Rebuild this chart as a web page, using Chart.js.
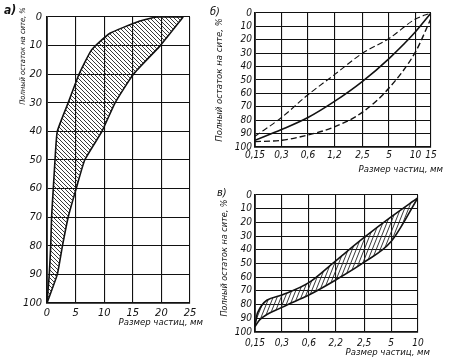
<!DOCTYPE html>
<html>
<head>
<meta charset="utf-8">
<script src="https://cdn.jsdelivr.net/npm/chart.js@4.4.1/dist/chart.umd.min.js"></script>
<style>
  body { margin: 0; background: #fff; }
  #wrap { position: relative; width: 450px; height: 363px; overflow: hidden; }
  canvas { position: absolute; }
</style>
</head>
<body>
<div id="wrap">
  <canvas id="chartA" width="215" height="363" style="left:0;top:0"></canvas>
  <canvas id="chartB" width="250" height="180" style="left:200px;top:0"></canvas>
  <canvas id="chartC" width="250" height="183" style="left:200px;top:180px"></canvas>
</div>
<script>
// а) band boundaries: particle size (mm) vs total residue (%)
const aLeftSize = [0, 0.4, 0.65, 0.8, 1.1, 1.4, 1.8, 3.7, 5.6, 7.8, 11, 16, 19.2, 23.8];
const aLeftResidue = [100, 90, 80, 70, 60, 50, 40, 30, 20, 11.5, 5.7, 1.6, 0, 0];
const aRightSize = [0, 1.8, 2.7, 3.7, 5.1, 6.6, 9.6, 11.9, 15.1, 19.8, 23.8];
const aRightResidue = [100, 90, 80, 70, 60, 50, 40, 30, 20, 10, 0];

// б) three grading curves
const bSizes = [0.15, 0.3, 0.6, 1.2, 2.5, 5, 10, 15];
const bTickLabels = ['0,15', '0,3', '0,6', '1,2', '2,5', '5', '10', '15'];
const bUpper = [92, 78, 61, 46, 30, 19, 4.5, 0];
const bMiddle = [95, 87, 78, 66, 51, 34, 14, 0];
const bLower = [96, 95, 91, 85, 74, 56, 29, 4];

// в) band boundaries
const cTicks = [0.15, 0.3, 0.6, 1.2, 2.5, 5, 10];
const cTickLabels = ['0,15', '0,3', '0,6', '2,2', '2,5', '5', '10'];
const cUpperSize = [0.15, 0.16, 0.3, 0.6, 1.2, 2.5, 5, 10];
const cUpperResidue = [96, 86, 73, 64, 48, 31, 16, 2];
const cLowerSize = [0.15, 0.17, 0.3, 0.6, 1.2, 2.5, 5, 10];
const cLowerResidue = [96, 91, 82, 73, 62, 49, 34, 2];

const yTicks = [0, 10, 20, 30, 40, 50, 60, 70, 80, 90, 100];

const FONT = '"Liberation Sans Narrow", "DejaVu Sans Condensed", sans-serif';
const INK = '#111';

const pts = (xs, ys) => xs.map((x, i) => ({ x: x, y: ys[i] }));

// hatching as canvas pattern
function hatch(w, h, steep) {
  const c = document.createElement('canvas');
  c.width = w; c.height = h;
  const g = c.getContext('2d');
  g.strokeStyle = '#222';
  g.lineWidth = 0.9;
  for (const k of [-1, 0, 1]) {
    g.beginPath();
    if (steep) { g.moveTo(k * w + w, 0); g.lineTo(k * w, h); }
    else { g.moveTo(k * w, 0); g.lineTo(k * w + w, h); }
    g.stroke();
  }
  return c.getContext('2d').createPattern(c, 'repeat');
}

// free texts: panel letters and axis titles
const textPlugin = {
  id: 'texts',
  afterDraw(chart, args, opts) {
    const ctx = chart.ctx;
    (opts.items || []).forEach(t => {
      ctx.save();
      ctx.font = t.font;
      ctx.fillStyle = INK;
      ctx.translate(t.x, t.y);
      if (t.rotate) ctx.rotate(-Math.PI / 2);
      ctx.textAlign = t.align || 'left';
      ctx.textBaseline = 'middle';
      ctx.fillText(t.text, 0, 0);
      ctx.restore();
    });
  }
};

const grid = { color: INK, lineWidth: 1.1, drawTicks: false };
const border = { color: INK, width: 1.8 };
const tickFont = { family: FONT, size: 10, style: 'italic' };

function yScale(width, pad, size) {
  return {
    min: 0, max: 100, reverse: true,
    afterBuildTicks: s => { s.ticks = yTicks.map(v => ({ value: v })); },
    afterFit: s => { s.width = width; },
    grid: grid, border: border,
    ticks: { color: INK, font: { family: FONT, size: size, style: 'italic' }, padding: pad, autoSkip: false }
  };
}

function logX(min, max, ticks, labels, height, pad) {
  return {
    type: 'logarithmic', min: min, max: max, bounds: 'data',
    afterBuildTicks: s => { s.ticks = ticks.map(v => ({ value: v })); },
    afterFit: s => { s.height = height; },
    grid: grid, border: border,
    ticks: { color: INK, font: tickFont, padding: pad, autoSkip: false, maxRotation: 0,
      callback: (v, i) => labels[i] }
  };
}

const common = {
  responsive: false,
  animation: false,
  devicePixelRatio: 1,
  elements: { point: { radius: 0 } }
};

// а)
new Chart(document.getElementById('chartA'), {
  type: 'line',
  data: {
    datasets: [
      { data: pts(aLeftSize, aLeftResidue), borderColor: INK, borderWidth: 1.6,
        backgroundColor: hatch(4, 4, false), fill: '+1', tension: 0.15 },
      { data: pts(aRightSize, aRightResidue), borderColor: INK, borderWidth: 1.6,
        fill: false, tension: 0.15 }
    ]
  },
  options: Object.assign({}, common, {
    layout: { padding: { left: 0, top: 17, right: 25, bottom: 0 } },
    scales: {
      x: {
        type: 'linear', min: 0, max: 25,
        ticks: { stepSize: 5, color: INK, font: { family: FONT, size: 11, style: 'italic' }, padding: 4, maxRotation: 0 },
        afterFit: s => { s.height = 60; },
        grid: grid, border: border
      },
      y: yScale(47, 5, 11)
    },
    plugins: {
      legend: { display: false },
      tooltip: { enabled: false },
      texts: { items: [
        { text: 'а)', x: 4, y: 11, font: 'bold italic 12px ' + FONT },
        { text: 'Полный остаток на сите, %', x: 23, y: 56, rotate: true, align: 'center', font: 'italic 7.5px ' + FONT },
        { text: 'Размер частиц, мм', x: 203, y: 323, align: 'right', font: 'italic 9.5px ' + FONT }
      ] }
    }
  }),
  plugins: [textPlugin]
});

// б)
new Chart(document.getElementById('chartB'), {
  type: 'line',
  data: {
    datasets: [
      { data: pts(bSizes, bUpper), borderColor: INK, borderWidth: 1.1, borderDash: [6, 3],
        fill: false, cubicInterpolationMode: 'monotone' },
      { data: pts(bSizes, bMiddle), borderColor: INK, borderWidth: 1.6,
        fill: false, cubicInterpolationMode: 'monotone' },
      { data: pts(bSizes, bLower), borderColor: INK, borderWidth: 1.4, borderDash: [6, 3],
        fill: false, cubicInterpolationMode: 'monotone' }
    ]
  },
  options: Object.assign({}, common, {
    layout: { padding: { left: 0, top: 13, right: 19, bottom: 0 } },
    scales: {
      x: logX(0.15, 15, bSizes, bTickLabels, 33, 2),
      y: yScale(55, 3, 10)
    },
    plugins: {
      legend: { display: false },
      tooltip: { enabled: false },
      texts: { items: [
        { text: 'б)', x: 10, y: 12, font: 'italic 11px ' + FONT },
        { text: 'Полный остаток на сите, %', x: 20, y: 80, rotate: true, align: 'center', font: 'italic 9.5px ' + FONT },
        { text: 'Размер частиц, мм', x: 243, y: 170, align: 'right', font: 'italic 9.5px ' + FONT }
      ] }
    }
  }),
  plugins: [textPlugin]
});

// в)
new Chart(document.getElementById('chartC'), {
  type: 'line',
  data: {
    datasets: [
      { data: pts(cUpperSize, cUpperResidue), borderColor: INK, borderWidth: 1.6,
        backgroundColor: hatch(4, 10, true), fill: '+1', cubicInterpolationMode: 'monotone' },
      { data: pts(cLowerSize, cLowerResidue), borderColor: INK, borderWidth: 1.6,
        fill: false, cubicInterpolationMode: 'monotone' }
    ]
  },
  options: Object.assign({}, common, {
    layout: { padding: { left: 0, top: 15, right: 32, bottom: 0 } },
    scales: {
      x: logX(0.15, 10, cTicks, cTickLabels, 31, 5),
      y: yScale(55, 3, 10)
    },
    plugins: {
      legend: { display: false },
      tooltip: { enabled: false },
      texts: { items: [
        { text: 'в)', x: 17, y: 13, font: 'italic 11px ' + FONT },
        { text: 'Полный остаток на сите, %', x: 25, y: 78, rotate: true, align: 'center', font: 'italic 9px ' + FONT },
        { text: 'Размер частиц, мм', x: 230, y: 173, align: 'right', font: 'italic 9.5px ' + FONT }
      ] }
    }
  }),
  plugins: [textPlugin]
});
</script>
</body>
</html>
